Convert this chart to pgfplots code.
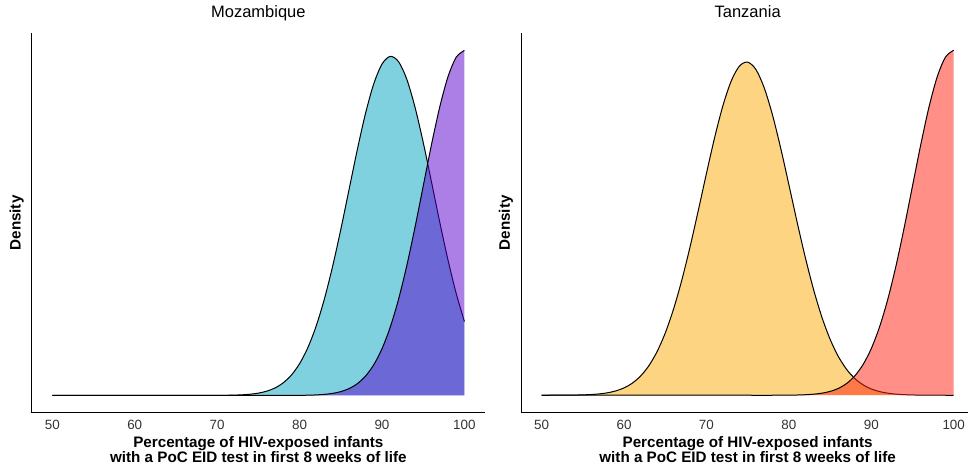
\documentclass[border=0pt]{standalone}
\usepackage{fontspec}
\setmainfont{Liberation Sans}
\usepackage{pgfplots}
\pgfplotsset{compat=1.18}
\usepackage{pgfplotstable}

% fill colours, laid down at half opacity so overlaps blend
\definecolor{mozfit}{RGB}{0,164,194}
\definecolor{mozpri}{RGB}{90,0,205}
\definecolor{tanfit}{RGB}{251,171,5}
\definecolor{tanpri}{RGB}{255,31,15}

% Mozambique: fitted distribution
\pgfplotstableread{
x y
50 0
55 0
60 0
65 0
68 0
69 0.0001
70 0.0002
71 0.0004
72 0.0009
73 0.0018
74 0.0036
75 0.0067
76 0.0123
77 0.0215
78 0.0363
79 0.0589
80 0.0920
81 0.1383
82 0.2001
83 0.2785
84 0.3731
85 0.4807
86 0.5962
87 0.7116
88 0.8172
89 0.9031
90 0.9604
91 0.9828
92 0.9678
93 0.9172
94 0.8362
95 0.7338
96 0.6196
97 0.5034
98 0.3936
99 0.2962
100 0.2144
}\mozA

% Mozambique: second distribution
\pgfplotstableread{
x y
50 0
55 0
60 0
65 0
70 0
75 0
78 0
79 0.0001
80 0.0003
81 0.0007
82 0.0015
83 0.0031
84 0.0060
85 0.0111
86 0.0198
87 0.0340
88 0.0561
89 0.0889
90 0.1353
91 0.1979
92 0.2780
93 0.3753
94 0.4868
95 0.6065
96 0.7261
97 0.8353
98 0.9231
99 0.9802
100 1
}\mozB

% Tanzania: fitted distribution
\pgfplotstableread{
x y
50 0
51 0
52 0.0001
53 0.0002
54 0.0005
55 0.0011
56 0.0021
57 0.0039
58 0.0071
59 0.0125
60 0.0213
61 0.0350
62 0.0555
63 0.0851
64 0.1260
65 0.1803
66 0.2491
67 0.3327
68 0.4290
69 0.5344
70 0.6430
71 0.7475
72 0.8394
73 0.9105
74 0.9540
75 0.9656
76 0.9442
77 0.8917
78 0.8136
79 0.7171
80 0.6105
81 0.5021
82 0.3989
83 0.3061
84 0.2269
85 0.1625
86 0.1124
87 0.0752
88 0.0485
89 0.0303
90 0.0182
91 0.0106
92 0.0060
93 0.0032
94 0.0017
95 0.0009
96 0.0004
97 0.0002
98 0.0001
99 0
100 0
}\tanA

% Tanzania: second distribution
\pgfplotstableread{
x y
50 0
55 0
60 0
65 0
70 0
75 0
78 0
79 0.0001
80 0.0003
81 0.0007
82 0.0015
83 0.0031
84 0.0060
85 0.0111
86 0.0198
87 0.0340
88 0.0561
89 0.0889
90 0.1353
91 0.1979
92 0.2780
93 0.3753
94 0.4868
95 0.6065
96 0.7261
97 0.8353
98 0.9231
99 0.9802
100 1
}\tanB

\pgfplotsset{
  densitypanel/.style={
    scale only axis, width=453.3bp, height=379.5bp,
    xmin=47.5, xmax=102.5, ymin=-0.05, ymax=1.05,
    axis x line*=bottom, axis y line*=left,
    axis line style={line width=1bp, black},
    xtick={50,60,70,80,90,100}, ytick=\empty,
    tick style={draw=none},
    /pgf/number format/assume math mode=true,
    xticklabel style={font=\fontsize{13.4bp}{16bp}\selectfont, text=black!80,
      anchor=base, yshift=-16.6bp},
    title style={at={(axis description cs:0.5,1)}, anchor=base, yshift=9.9bp,
      font=\fontsize{16.5bp}{19bp}\selectfont},
    xlabel style={at={(axis description cs:0.5,0)}, anchor=north, inner sep=0pt,
      yshift=-23.3bp, align=center,
      font=\fontsize{15.2bp}{15.3bp}\selectfont\bfseries},
    every axis y label/.style={at={(axis description cs:0,0.5)}, xshift=-15bp,
      anchor=center, rotate=90, font=\fontsize{15.2bp}{16bp}\selectfont\bfseries},
    xlabel={Percentage of HIV-exposed infants\\with a PoC EID test in first 8 weeks of life},
    ylabel={Density},
  },
  densfill/.style={draw=none, fill opacity=0.5, smooth},
  densline/.style={smooth, black, line width=1bp},
}

\begin{document}
\begin{tikzpicture}
\path[use as bounding box] (0,0) rectangle (968bp,468bp);

\begin{axis}[densitypanel, at={(31.7bp,55.3bp)}, anchor=south west, title={Mozambique}]
  \addplot[densfill, fill=mozfit] table {\mozA} \closedcycle;
  \addplot[densline] table {\mozA};
  \addplot[densfill, fill=mozpri] table {\mozB} \closedcycle;
  \addplot[densline] table {\mozB};
\end{axis}

\begin{axis}[densitypanel, at={(521bp,55.5bp)}, anchor=south west, title={Tanzania}]
  \addplot[densfill, fill=tanfit] table {\tanA} \closedcycle;
  \addplot[densline] table {\tanA};
  \addplot[densfill, fill=tanpri] table {\tanB} \closedcycle;
  \addplot[densline] table {\tanB};
\end{axis}
\end{tikzpicture}
\end{document}
